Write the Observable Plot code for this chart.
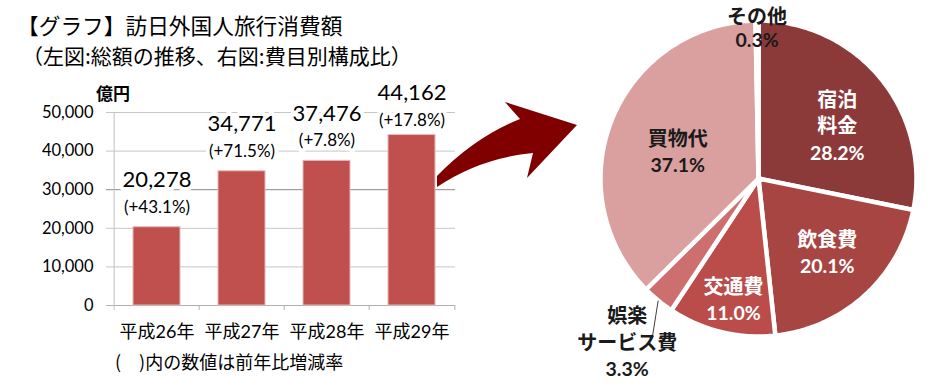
<!DOCTYPE html>
<html><head><meta charset="utf-8">
<script src="https://cdn.jsdelivr.net/npm/d3@7"></script>
<script src="https://cdn.jsdelivr.net/npm/@observablehq/plot@0.6"></script>
<style>
body{margin:0;background:#fff;}
#wrap{position:relative;width:952px;height:391px;overflow:hidden;font-family:"Noto Sans CJK JP",sans-serif;color:#000;}
#bars,#pie,#overlay{position:absolute;top:0;}
#bars{left:0;} #pie{left:540px;} #overlay{left:0;pointer-events:none;}
#overlay text{font-family:"Noto Sans CJK JP",sans-serif;fill:#000;}
</style></head><body>
<div id="wrap">
  <div id="bars"></div>
  <div id="pie"></div>
  <svg id="overlay" width="952" height="391" viewBox="0 0 952 391">
    <path d="M437,187 Q480,158 533,153 L527,178 L577,125 L505,102 L520,119 Q475,137 437,176 Z" fill="#800000"/>
    <text x="17" y="33.5" font-size="21.7">【グラフ】訪日外国人旅行消費額</text>
    <text x="22" y="64.2" font-size="21">（左図:総額の推移、右図:費目別構成比）</text>
    <text x="96" y="99.5" font-size="17" font-weight="bold">億円</text>
    <text x="115" y="368.8" font-size="18">(　)内の数値は前年比増減率</text>
  </svg>
</div>
<script>
// ---- data ----
const years = ["平成26年", "平成27年", "平成28年", "平成29年"];
const totals = [20278, 34771, 37476, 44162];
const growth = ["(+43.1%)", "(+71.5%)", "(+7.8%)", "(+17.8%)"];
const yTicks = [0, 10000, 20000, 30000, 40000, 50000];

const pieCategories = ["宿泊料金", "飲食費", "交通費", "娯楽サービス費", "買物代", "その他"];
const pieLabels = ["宿泊\n料金", "飲食費", "交通費", "娯楽\nサービス費", "買物代", "その他"];
const pieShares = [28.2, 20.1, 11.0, 3.3, 37.1, 0.3];

// ---- styles ----
const LATIN = "Lato, 'Noto Sans CJK JP', sans-serif";
const CJK = "'Noto Sans CJK JP', sans-serif";
const sliceColor = {"宿泊料金":"#8C3939","飲食費":"#A74543","交通費":"#BA4C4A","娯楽サービス費":"#CC6F6E","買物代":"#D9A09F","その他":"#FFFFFF"};
const textColor = {"宿泊料金":"#fff","飲食費":"#fff","交通費":"#fff","娯楽サービス費":"#1a1a1a","買物代":"#1a1a1a","その他":"#1a1a1a"};
const placement = {"宿泊料金":{r:94,dx:6,dy:8,lh:26.5},"飲食費":{r:102,dx:0,dy:0,lh:26.5},"交通費":{r:125,dx:4.5,dy:1,lh:26.5},
  "娯楽サービス費":{r:158,dx:-31,dy:43,lh:26.5},"買物代":{r:85,dx:-2,dy:6.5,lh:26.5},"その他":{r:152,dx:0,dy:2.5,lh:23}};

const bars = years.map((y, i) => ({year: y, value: totals[i], growth: growth[i], last: i === years.length - 1}));

// ---- bar chart ----
const BW = 470, BH = 391, ML = 112, MR = 15, MT = 112, MB = 86;
const step = (BW - ML - MR) / years.length;
const tickUnits = 5 * 50000 / (BH - MT - MB);
const fmt = d3.format(",");
const barChart = Plot.plot({
  width: BW, height: BH, marginLeft: ML, marginRight: MR, marginTop: MT, marginBottom: MB,
  style: {fontFamily: LATIN, background: "transparent", overflow: "visible"},
  x: {domain: years, paddingInner: 0.45, paddingOuter: 0.225, align: 0.5, axis: null},
  y: {domain: [0, 50000], axis: null},
  marks: [
    Plot.gridY(yTicks.filter(d => d !== 0 && d !== 30000), {stroke: "#c6c6c6", strokeOpacity: 1, insetLeft: -6}),
    Plot.ruleY([30000], {stroke: "#8a8a8a", insetLeft: -6}),
    Plot.ruleY([0], {stroke: "#b0b0b0", insetLeft: -6}),
    Plot.ruleX([years[0]], {dx: -step / 2, y1: -tickUnits, y2: 50000, stroke: "#c0c0c0"}),
    Plot.ruleX(years.slice(1), {dx: -step / 2, y1: -tickUnits, y2: 0, stroke: "#b0b0b0"}),
    Plot.ruleX([years[years.length - 1]], {dx: step / 2, y1: -tickUnits, y2: 0, stroke: "#b0b0b0"}),
    Plot.axisY({ticks: yTicks, tickFormat: fmt, tickSize: 0, tickPadding: 19, fontSize: 16.5, label: null, fill: "#000"}),
    Plot.axisX({tickSize: 0, tickPadding: 20, fontSize: 18, label: null, fill: "#000", fontFamily: LATIN}),
    Plot.barY(bars, {x: "year", y: "value", fill: "#C0504D", stroke: "#E6B9B8", strokeWidth: 1}),
    Plot.text(bars.filter(d => !d.last), {x: "year", y: "value", text: d => fmt(d.value), dy: -47, fontSize: 22,
      fill: "#000", stroke: "white", strokeWidth: 8, paintOrder: "stroke"}),
    Plot.text(bars.filter(d => !d.last), {x: "year", y: "value", text: "growth", dy: -20, fontSize: 17,
      fill: "#000", stroke: "white", strokeWidth: 8, paintOrder: "stroke"}),
    Plot.text(bars.filter(d => d.last), {x: "year", y: "value", text: d => fmt(d.value), dy: -42, fontSize: 22,
      fill: "#000", stroke: "white", strokeWidth: 8, paintOrder: "stroke"}),
    Plot.text(bars.filter(d => d.last), {x: "year", y: "value", text: "growth", dy: -14.5, fontSize: 17,
      fill: "#000", stroke: "white", strokeWidth: 8, paintOrder: "stroke"})
  ]
});
document.getElementById("bars").append(barChart);

// ---- pie chart ----
const PW = 412, PH = 391, CX = 218, CY = 178, R = 158;
let acc = 0;
const slices = pieCategories.map((name, i) => {
  const a0 = acc / 100 * 2 * Math.PI; acc += pieShares[i];
  const a1 = acc / 100 * 2 * Math.PI;
  return {name, label: pieLabels[i], share: pieShares[i], a0, a1, mid: (a0 + a1) / 2};
});
const polyPts = [];
for (const s of slices) {
  polyPts.push({name: s.name, x: CX, y: CY});
  const n = Math.max(2, Math.ceil((s.a1 - s.a0) / (Math.PI / 180)));
  for (let k = 0; k <= n; k++) {
    const a = s.a0 + (s.a1 - s.a0) * k / n;
    polyPts.push({name: s.name, x: CX + R * Math.sin(a), y: CY - R * Math.cos(a)});
  }
  polyPts.push({name: s.name, x: CX, y: CY});
}
const labelRows = [];
const leader = [];
for (const s of slices) {
  const p = placement[s.name];
  const bx = CX + p.r * Math.sin(s.mid) + p.dx;
  const by = CY - p.r * Math.cos(s.mid) + p.dy;
  const lines = s.label.split("\n");
  const all = [...lines.map(t => ({t, kind: "name"})), {t: s.share.toFixed(1) + "%", kind: "pct"}];
  all.forEach((l, j) => labelRows.push({x: bx, y: by + (j - (all.length - 1) / 2) * p.lh, text: l.t, kind: l.kind, color: textColor[s.name]}));
  if (s.name === "娯楽サービス費") {
    const ex = CX + R * Math.sin(s.mid), ey = CY - R * Math.cos(s.mid);
    leader.push({x1: ex, y1: ey, x2: ex - 6, y2: ey + 38});
  }
}
const pieChart = Plot.plot({
  width: PW, height: PH, margin: 0,
  style: {background: "transparent", overflow: "visible"},
  x: {domain: [0, PW], range: [0, PW], axis: null},
  y: {domain: [0, PH], range: [0, PH], axis: null},
  color: {type: "identity"},
  marks: [
    Plot.line(polyPts, {x: "x", y: "y", z: "name", fill: d => sliceColor[d.name], stroke: "white", strokeWidth: 4.5, strokeLinejoin: "round"}),
    Plot.link(leader, {x1: "x1", y1: "y1", x2: "x2", y2: "y2", stroke: "#404040", strokeWidth: 1}),
    Plot.text(labelRows.filter(d => d.kind === "name"), {x: "x", y: "y", text: "text", fill: "color", fontSize: 20, fontWeight: "bold", fontFamily: CJK}),
    Plot.text(labelRows.filter(d => d.kind === "pct"), {x: "x", y: "y", text: "text", fill: "color", fontSize: 19.5, fontWeight: "bold", fontFamily: LATIN})
  ]
});
document.getElementById("pie").append(pieChart);
</script>
</body></html>
